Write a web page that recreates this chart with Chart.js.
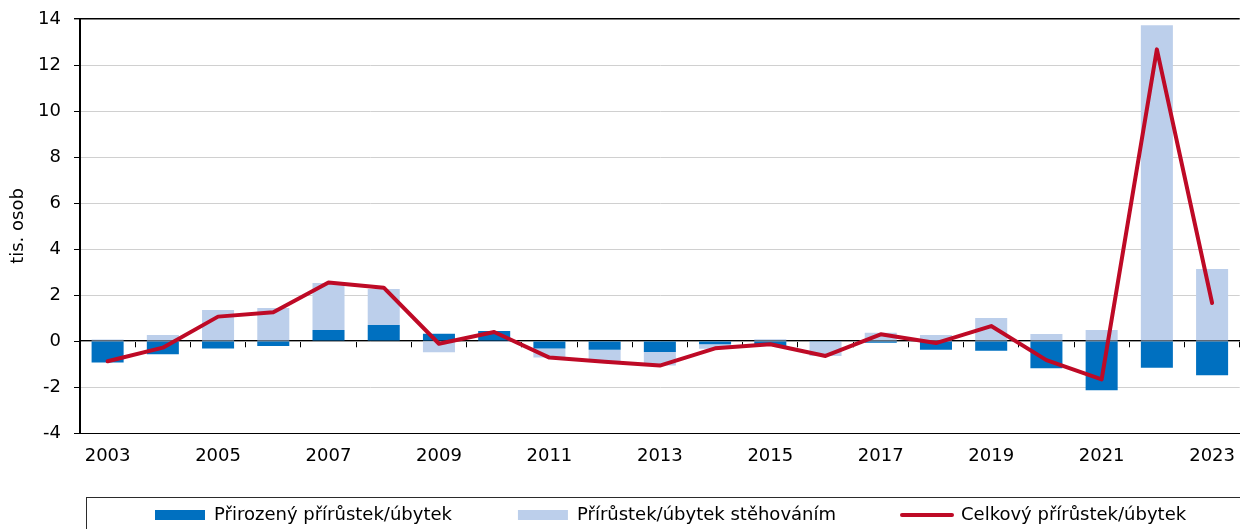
<!DOCTYPE html>
<html>
<head>
<meta charset="utf-8">
<script src="https://cdn.jsdelivr.net/npm/chart.js@4.4.1/dist/chart.umd.min.js"></script>
<style>
  html, body { margin: 0; padding: 0; background: #fff; }
  #wrap { width: 1240px; height: 529px; position: relative; }
</style>
</head>
<body>
<div id="wrap"><canvas id="chart"></canvas></div>
<script>
const years = ['2003', '2004', '2005', '2006', '2007', '2008', '2009', '2010', '2011', '2012', '2013',
    '2014', '2015', '2016', '2017', '2018', '2019', '2020', '2021', '2022', '2023'];

// tis. osob
const natural = [-0.94, -0.58, -0.33, -0.22, 0.48, 0.70, 0.32, 0.43, -0.33, -0.38, -0.48,
    -0.14, -0.22, -0.03, -0.08, -0.38, -0.42, -1.19, -2.14, -1.16, -1.49];
const migration = [0.07, 0.26, 1.35, 1.43, 2.04, 1.56, -0.49, -0.04, -0.39, -0.50, -0.59,
    -0.20, 0.08, -0.62, 0.36, 0.26, 1.00, 0.30, 0.48, 13.73, 3.13];
const total = [-0.88, -0.29, 1.06, 1.25, 2.54, 2.32, -0.12, 0.39, -0.72, -0.90, -1.07,
    -0.32, -0.14, -0.65, 0.29, -0.09, 0.65, -0.83, -1.67, 12.68, 1.65];

const yTicks = [-4, -2, 0, 2, 4, 6, 8, 10, 12, 14];

const labelNames = ['Přirozený přírůstek/úbytek', 'Přírůstek/úbytek stěhováním', 'Celkový přírůstek/úbytek'];

const FONT = 'DejaVu Sans';
const darkBlue = '#0070C0';
const lightBlue = '#BCCFEB';
const red = '#BE0A26';

// legenda pod grafem, posunuta jako v originale + ramecek
const legendPlacement = {
    id: 'legendPlacement',
    afterLayout(chart) {
        const lg = chart.legend;
        lg.left = 89;
        lg.right = 1400;
        lg.top = 440;
        lg.bottom = 529;
    },
    afterDraw(chart) {
        const c = chart.ctx;
        c.save();
        c.strokeStyle = '#2b2b2b';
        c.lineWidth = 1;
        c.strokeRect(86.5, 497.5, 1300, 100);
        c.restore();
    }
};

const ctx = document.getElementById('chart').getContext('2d');

new Chart(ctx, {
    type: 'bar',
    data: {
        labels: years,
        datasets: [
            {
                label: labelNames[0],
                data: natural,
                backgroundColor: darkBlue,
                borderWidth: 0,
                barPercentage: 0.58,
                categoryPercentage: 1,
                order: 1
            },
            {
                label: labelNames[1],
                data: migration,
                backgroundColor: lightBlue,
                borderWidth: 0,
                barPercentage: 0.58,
                categoryPercentage: 1,
                order: 1
            },
            {
                type: 'line',
                label: labelNames[2],
                data: total,
                borderColor: red,
                backgroundColor: red,
                borderWidth: 4,
                borderCapStyle: 'round',
                borderJoinStyle: 'round',
                pointRadius: 0,
                tension: 0,
                stack: 'total',
                order: 0
            }
        ]
    },
    options: {
        responsive: true,
        maintainAspectRatio: false,
        animation: false,
        layout: { padding: { top: 19, right: 0, bottom: 0, left: 0 } },
        plugins: {
            tooltip: { enabled: false },
            legend: {
                position: 'bottom',
                align: 'start',
                maxHeight: 66,
                labels: {
                    color: '#000',
                    font: { family: FONT, size: 18 },
                    usePointStyle: true,
                    pointStyleWidth: 50,
                    boxHeight: 10,
                    padding: 66,
                    generateLabels(chart) {
                        const items = Chart.defaults.plugins.legend.labels.generateLabels(chart);
                        items.sort((a, b) => a.datasetIndex - b.datasetIndex);
                        items.forEach(it => {
                            const ds = chart.data.datasets[it.datasetIndex];
                            if (ds.type === 'line') {
                                it.pointStyle = 'line';
                                it.strokeStyle = ds.borderColor;
                                it.lineWidth = 4;
                                it.lineCap = 'round';
                            } else {
                                it.pointStyle = 'rect';
                                it.fillStyle = ds.backgroundColor;
                                it.lineWidth = 0;
                            }
                        });
                        return items;
                    }
                }
            }
        },
        scales: {
            x: {
                stacked: true,
                offset: true,
                grid: { display: false },
                border: { color: '#000', width: 1 },
                ticks: {
                    autoSkip: false,
                    maxRotation: 0,
                    padding: 5,
                    color: '#000',
                    font: { family: FONT, size: 18 },
                    callback: (v, i) => (i % 2 === 0 ? years[i] : '')
                },
                afterFit: (s) => { s.height = 30; }
            },
            x2: {
                type: 'category',
                axis: 'x',
                position: { y: 0 },
                offset: true,
                z: 1,
                grid: {
                    display: true,
                    offset: true,
                    drawOnChartArea: false,
                    drawTicks: true,
                    tickLength: 6,
                    tickColor: '#000',
                    tickWidth: 1
                },
                border: { color: '#000', width: 1.3 },
                ticks: { display: false }
            },
            y: {
                stacked: true,
                min: yTicks[0],
                max: yTicks[yTicks.length - 1],
                afterBuildTicks: (s) => { s.ticks = yTicks.map(v => ({ value: v })); },
                grid: {
                    color: (c) => (c.tick && c.tick.value === 14 ? '#000' : '#d0d0d0'),
                    lineWidth: (c) => (c.tick && c.tick.value === 14 ? 1.4 : 1),
                    drawTicks: true,
                    tickLength: 6,
                    tickColor: '#000'
                },
                border: { color: '#000', width: 2 },
                ticks: {
                    padding: 13,
                    color: '#000',
                    font: { family: FONT, size: 18 }
                },
                title: {
                    display: true,
                    text: 'tis. osob',
                    color: '#000',
                    font: { family: FONT, size: 18 },
                    padding: { top: 8, bottom: 0 }
                },
                afterFit: (s) => {
                    s.width = 80;
                    s.paddingTop = 0;
                    s.paddingBottom = 0;
                }
            }
        }
    },
    plugins: [legendPlacement]
});
</script>
</body>
</html>
